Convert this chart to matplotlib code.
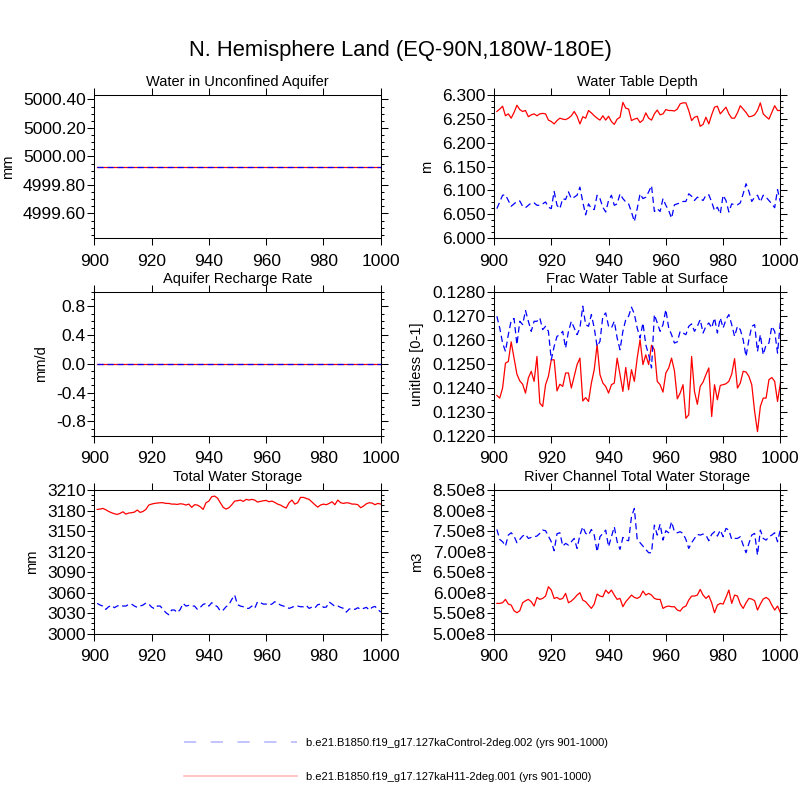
import numpy as np
import matplotlib
matplotlib.use("Agg")
import matplotlib.pyplot as plt
from matplotlib.ticker import MultipleLocator, FixedLocator, FuncFormatter
from matplotlib.lines import Line2D

plt.rcParams['font.family'] = ['Liberation Sans', 'DejaVu Sans']

years = np.arange(901, 1001)

# Water in Unconfined Aquifer (mm), both cases flat
wa_ctrl = [4999.926] * 100
wa_h11 = [4999.926] * 100

# Aquifer Recharge Rate (mm/d), both cases zero
qr_ctrl = [0.0] * 100
qr_h11 = [0.0] * 100

# Water Table Depth (m)
wtd_ctrl = [6.062, 6.076, 6.090, 6.091, 6.079, 6.067, 6.072, 6.077, 6.078, 6.067,
            6.064, 6.069, 6.074, 6.074, 6.069, 6.069, 6.072, 6.076, 6.065, 6.062,
            6.098, 6.069, 6.062, 6.083, 6.081, 6.097, 6.083, 6.086, 6.090, 6.107,
            6.076, 6.049, 6.072, 6.062, 6.060, 6.090, 6.083, 6.065, 6.055, 6.079,
            6.090, 6.069, 6.072, 6.093, 6.083, 6.076, 6.072, 6.055, 6.035, 6.062,
            6.093, 6.083, 6.086, 6.097, 6.110, 6.056, 6.062, 6.056, 6.083, 6.069,
            6.058, 6.042, 6.070, 6.072, 6.074, 6.077, 6.077, 6.093, 6.088, 6.079,
            6.086, 6.083, 6.079, 6.090, 6.091, 6.076, 6.058, 6.065, 6.051, 6.090,
            6.079, 6.055, 6.072, 6.070, 6.070, 6.074, 6.093, 6.114, 6.098, 6.077,
            6.086, 6.090, 6.076, 6.090, 6.086, 6.079, 6.072, 6.064, 6.102, 6.076]
wtd_h11 = [6.265, 6.270, 6.276, 6.256, 6.260, 6.251, 6.263, 6.278, 6.269, 6.265,
           6.267, 6.254, 6.258, 6.260, 6.256, 6.260, 6.261, 6.260, 6.247, 6.244,
           6.239, 6.246, 6.251, 6.249, 6.248, 6.251, 6.256, 6.265, 6.255, 6.239,
           6.254, 6.251, 6.267, 6.262, 6.256, 6.251, 6.247, 6.256, 6.247, 6.255,
           6.244, 6.238, 6.249, 6.253, 6.284, 6.272, 6.270, 6.246, 6.249, 6.251,
           6.242, 6.247, 6.262, 6.251, 6.247, 6.260, 6.268, 6.258, 6.260, 6.269,
           6.267, 6.267, 6.266, 6.270, 6.281, 6.283, 6.283, 6.267, 6.246, 6.253,
           6.255, 6.234, 6.238, 6.253, 6.239, 6.258, 6.274, 6.276, 6.260, 6.267,
           6.274, 6.260, 6.251, 6.251, 6.262, 6.277, 6.270, 6.263, 6.254, 6.255,
           6.258, 6.267, 6.283, 6.260, 6.254, 6.249, 6.263, 6.277, 6.267, 6.267]

# Frac Water Table at Surface (unitless)
frac_ctrl = [0.12699, 0.12650, 0.12587, 0.12552, 0.12622, 0.12681, 0.12690, 0.12580, 0.12678, 0.12664,
             0.12723, 0.12678, 0.12636, 0.12678, 0.12678, 0.12692, 0.12643, 0.12657, 0.12636, 0.12517,
             0.12573, 0.12615, 0.12622, 0.12636, 0.12566, 0.12636, 0.12678, 0.12650, 0.12622, 0.12650,
             0.12741, 0.12664, 0.12657, 0.12706, 0.12650, 0.12573, 0.12594, 0.12699, 0.12713, 0.12657,
             0.12650, 0.12678, 0.12608, 0.12559, 0.12636, 0.12685, 0.12699, 0.12737, 0.12709, 0.12650,
             0.12608, 0.12671, 0.12580, 0.12538, 0.12483, 0.12706, 0.12671, 0.12636, 0.12664, 0.12727,
             0.12650, 0.12622, 0.12587, 0.12592, 0.12636, 0.12629, 0.12622, 0.12657, 0.12667, 0.12636,
             0.12657, 0.12685, 0.12629, 0.12657, 0.12671, 0.12650, 0.12692, 0.12629, 0.12692, 0.12650,
             0.12685, 0.12706, 0.12664, 0.12615, 0.12657, 0.12643, 0.12601, 0.12531, 0.12601, 0.12657,
             0.12664, 0.12552, 0.12622, 0.12538, 0.12580, 0.12587, 0.12657, 0.12636, 0.12545, 0.12678]
frac_h11 = [0.12368, 0.12357, 0.12399, 0.12503, 0.12510, 0.12592, 0.12524, 0.12457, 0.12429, 0.12415,
            0.12378, 0.12441, 0.12469, 0.12427, 0.12531, 0.12336, 0.12322, 0.12413, 0.12448, 0.12517,
            0.12517, 0.12387, 0.12415, 0.12406, 0.12462, 0.12462, 0.12399, 0.12448, 0.12497, 0.12524,
            0.12345, 0.12359, 0.12343, 0.12420, 0.12476, 0.12580, 0.12455, 0.12420, 0.12406, 0.12378,
            0.12413, 0.12420, 0.12524, 0.12455, 0.12385, 0.12485, 0.12392, 0.12476, 0.12427, 0.12524,
            0.12601, 0.12497, 0.12538, 0.12497, 0.12578, 0.12559, 0.12427, 0.12413, 0.12382, 0.12462,
            0.12483, 0.12524, 0.12471, 0.12354, 0.12378, 0.12413, 0.12273, 0.12287, 0.12531, 0.12385,
            0.12331, 0.12406, 0.12424, 0.12455, 0.12483, 0.12280, 0.12413, 0.12350, 0.12410, 0.12413,
            0.12417, 0.12427, 0.12457, 0.12522, 0.12399, 0.12420, 0.12469, 0.12466, 0.12448, 0.12413,
            0.12301, 0.12217, 0.12322, 0.12357, 0.12357, 0.12434, 0.12443, 0.12427, 0.12343, 0.12420]

# Total Water Storage (mm)
tws_ctrl = [3044.3, 3041.9, 3040.4, 3035.5, 3039.4, 3041.4, 3038.0, 3040.4, 3041.9, 3040.4,
            3040.4, 3042.8, 3043.3, 3040.4, 3038.5, 3040.4, 3041.9, 3044.8, 3043.3, 3038.9,
            3036.5, 3040.4, 3040.4, 3035.5, 3030.7, 3027.7, 3034.6, 3034.6, 3030.7, 3035.5,
            3044.3, 3040.4, 3041.4, 3040.4, 3040.4, 3035.5, 3038.5, 3042.8, 3044.3, 3040.4,
            3045.3, 3041.9, 3039.4, 3033.1, 3034.6, 3039.4, 3042.4, 3050.2, 3056.5, 3042.4,
            3040.4, 3039.4, 3037.0, 3037.0, 3040.4, 3037.0, 3046.7, 3045.3, 3043.3, 3043.3,
            3041.9, 3043.3, 3046.7, 3044.3, 3041.9, 3040.4, 3039.4, 3037.0, 3038.5, 3040.4,
            3040.4, 3039.4, 3039.4, 3041.4, 3037.0, 3038.9, 3037.5, 3042.4, 3043.3, 3038.5,
            3038.9, 3046.3, 3043.3, 3039.9, 3040.4, 3038.5, 3037.0, 3031.6, 3036.0, 3037.0,
            3035.5, 3038.0, 3035.5, 3037.0, 3038.5, 3034.6, 3038.5, 3039.9, 3035.5, 3031.6]
tws_h11 = [3181.7, 3182.2, 3183.2, 3181.2, 3178.8, 3176.9, 3175.4, 3174.4, 3175.9, 3178.3,
           3174.9, 3176.4, 3176.9, 3177.8, 3180.8, 3177.3, 3178.8, 3181.7, 3188.1, 3189.5,
           3190.5, 3191.0, 3191.5, 3191.5, 3190.5, 3190.5, 3189.5, 3189.5, 3189.0, 3190.0,
           3189.5, 3188.1, 3189.5, 3184.7, 3188.6, 3188.1, 3185.6, 3181.7, 3191.5, 3193.9,
           3200.3, 3201.2, 3198.3, 3191.5, 3184.7, 3182.2, 3184.2, 3188.6, 3193.9, 3194.4,
           3195.4, 3193.4, 3196.4, 3195.4, 3196.4, 3195.4, 3192.5, 3193.4, 3194.4, 3194.9,
           3192.9, 3193.9, 3192.0, 3189.5, 3188.1, 3185.6, 3183.7, 3191.5, 3195.4, 3189.5,
           3191.5, 3199.3, 3199.3, 3197.8, 3196.4, 3192.5, 3188.6, 3185.1, 3188.1, 3189.5,
           3188.6, 3190.5, 3192.9, 3188.6, 3195.4, 3191.5, 3190.5, 3191.5, 3191.0, 3189.5,
           3189.5, 3188.6, 3184.2, 3186.6, 3190.0, 3191.5, 3191.0, 3188.6, 3190.5, 3189.5]

# River Channel Total Water Storage (units of 1e8 m3)
river_ctrl = [7.541, 7.298, 7.241, 7.135, 7.403, 7.460, 7.379, 7.217, 7.298, 7.379,
              7.420, 7.322, 7.346, 7.363, 7.379, 7.444, 7.525, 7.509, 7.379, 7.241,
              7.022, 7.436, 7.460, 7.135, 7.200, 7.160, 7.241, 7.322, 7.078, 7.403,
              7.606, 7.444, 7.403, 7.541, 7.403, 6.997, 7.363, 7.444, 7.525, 7.119,
              7.363, 7.606, 7.241, 7.054, 7.346, 7.281, 7.265, 7.850, 8.053, 7.298,
              7.217, 7.135, 7.054, 6.973, 6.973, 7.647, 7.403, 7.671, 7.281, 7.509,
              7.460, 7.728, 7.485, 7.460, 7.485, 7.444, 7.298, 7.078, 7.217, 7.322,
              7.420, 7.403, 7.428, 7.403, 7.265, 7.420, 7.485, 7.379, 7.525, 7.363,
              7.566, 7.525, 7.298, 7.322, 7.322, 7.363, 7.160, 6.973, 7.200, 7.403,
              7.444, 6.916, 7.525, 7.322, 7.281, 7.363, 7.403, 7.460, 7.241, 7.541]
river_h11 = [5.738, 5.738, 5.754, 5.836, 5.722, 5.697, 5.559, 5.511, 5.559, 5.754,
             5.803, 5.836, 5.779, 5.673, 5.884, 5.836, 5.860, 5.917, 6.144, 6.063,
             5.860, 5.884, 5.836, 5.860, 5.982, 5.754, 5.795, 5.860, 5.941, 5.998,
             5.819, 5.779, 5.697, 5.616, 5.722, 5.965, 5.917, 5.900, 6.063, 5.982,
             6.063, 5.941, 5.836, 5.860, 5.657, 5.779, 5.860, 5.941, 5.884, 5.860,
             5.900, 6.039, 5.941, 5.982, 5.941, 5.860, 5.836, 5.836, 5.616, 5.657,
             5.673, 5.657, 5.657, 5.576, 5.551, 5.641, 5.673, 5.819, 5.917, 5.917,
             5.941, 6.079, 5.941, 5.860, 5.925, 5.754, 5.511, 5.697, 5.738, 5.722,
             5.884, 6.063, 5.738, 5.941, 5.917, 5.722, 5.616, 5.754, 5.860, 5.844,
             5.803, 5.576, 5.722, 5.844, 5.884, 5.836, 5.697, 5.576, 5.673, 5.511]

label_ctrl = "b.e21.B1850.f19_g17.127kaControl-2deg.002 (yrs 901-1000)"
label_h11 = "b.e21.B1850.f19_g17.127kaH11-2deg.001 (yrs 901-1000)"

panels = [
    # title, ylabel, ctrl, h11, ylim, major ticks, minor step, formatter
    ("Water in Unconfined Aquifer", "mm", wa_ctrl, wa_h11, (4999.425, 5000.433),
     [4999.6, 4999.8, 5000.0, 5000.2, 5000.4], 0.05, lambda v, p: f"{v:.2f}"),
    ("Water Table Depth", "m", wtd_ctrl, wtd_h11, (6.0, 6.3),
     [6.0, 6.05, 6.1, 6.15, 6.2, 6.25, 6.3], 0.0125, lambda v, p: f"{v:.3f}"),
    ("Aquifer Recharge Rate", "mm/d", qr_ctrl, qr_h11, (-1.0, 1.0),
     [-0.8, -0.4, 0.0, 0.4, 0.8], 0.1, lambda v, p: f"{v:.1f}"),
    ("Frac Water Table at Surface", "unitless [0-1]", frac_ctrl, frac_h11, (0.122, 0.128),
     [0.122, 0.123, 0.124, 0.125, 0.126, 0.127, 0.128], 0.00025, lambda v, p: f"{v:.4f}"),
    ("Total Water Storage", "mm", tws_ctrl, tws_h11, (3000, 3210),
     [3000, 3030, 3060, 3090, 3120, 3150, 3180, 3210], 7.5, lambda v, p: f"{v:.0f}"),
    ("River Channel Total Water Storage", "m3",
     np.array(river_ctrl) * 1e8, np.array(river_h11) * 1e8, (5.0e8, 8.5e8),
     [5.0e8, 5.5e8, 6.0e8, 6.5e8, 7.0e8, 7.5e8, 8.0e8, 8.5e8], 0.125e8,
     lambda v, p: f"{v / 1e8:.2f}e8"),
]

fig = plt.figure(figsize=(8, 8), dpi=100)

lefts = [0.1179, 0.6175]
bottoms = [0.7021, 0.4554, 0.2079]
w, h = 0.358, 0.1795

for k, (title, ylab, c, r, ylim, majors, mstep, fmt) in enumerate(panels):
    row, col = divmod(k, 2)
    ax = fig.add_axes([lefts[col], bottoms[row], w, h])
    ax.plot(years, r, color='#ff0000', lw=0.9)
    ax.plot(years, c, color='#0000ff', lw=0.9, dashes=(5, 3))
    ax.set_xlim(900, 1000)
    ax.set_ylim(*ylim)
    ax.xaxis.set_major_locator(MultipleLocator(20))
    ax.yaxis.set_major_locator(FixedLocator(majors))
    ax.yaxis.set_minor_locator(MultipleLocator(mstep))
    ax.yaxis.set_major_formatter(FuncFormatter(fmt))
    ax.tick_params(which='both', direction='out', top=True, right=True,
                   width=0.75, labelsize=12.5)
    ax.tick_params(which='major', length=5)
    ax.tick_params(which='minor', length=2)
    ax.tick_params(axis='y', pad=1)
    ax.tick_params(axis='x', pad=6)
    for s in ax.spines.values():
        s.set_linewidth(0.75)
    ax.set_title(title, fontsize=10.5, pad=6.5)
    ax.set_ylabel(ylab, fontsize=10.5, labelpad=6)

fig.suptitle("N. Hemisphere Land (EQ-90N,180W-180E)", fontsize=15.8,
             y=0.9304, va='baseline')

h_ctrl = Line2D([], [], color='#0000ff', alpha=0.3, lw=1.1, dashes=(8, 9.5))
h_h11 = Line2D([], [], color='#ff0000', alpha=0.3, lw=1.1)
fig.legend([h_ctrl, h_h11], [label_ctrl, label_h11], loc='center left',
           bbox_to_anchor=(0.23, 0.05), frameon=False, fontsize=8,
           handlelength=10.2, handletextpad=0.8, labelspacing=2.1,
           borderpad=0, borderaxespad=0)

fig.savefig("out.png", dpi=100)
